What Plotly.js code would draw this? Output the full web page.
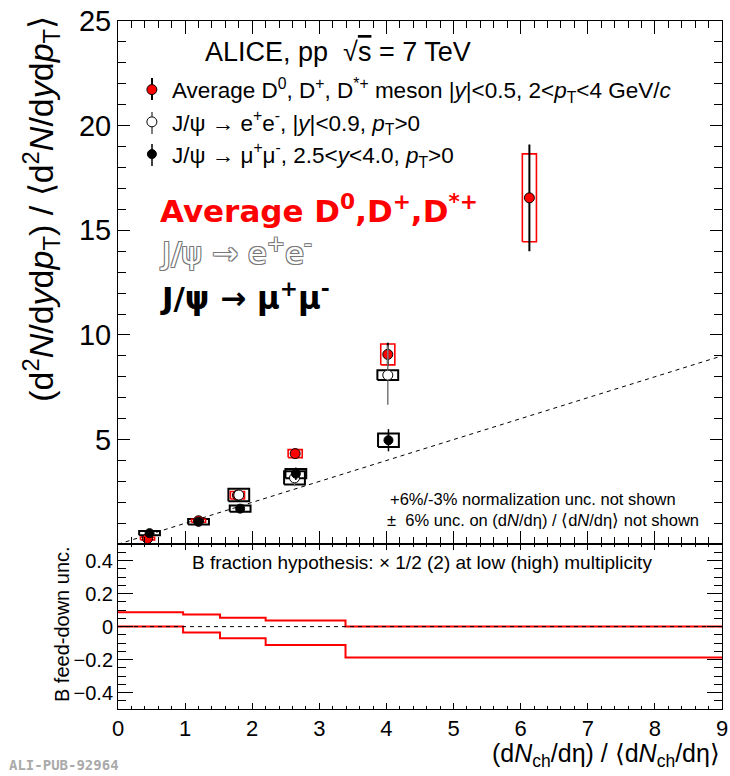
<!DOCTYPE html>
<html>
<head>
<meta charset="utf-8">
<script src="https://cdn.plot.ly/plotly-3.0.1.min.js"></script>
<style>body{margin:0;padding:0;background:#fff}#plot{width:730px;height:776px}</style>
</head>
<body>
<div id="plot"></div>
<script>
// D mesons (average D0, D+, D*+), 2<pT<4 GeV/c
const dX    = [0.44, 1.20, 1.78, 2.64, 4.02, 6.13];
const dY    = [0.27, 1.12, 2.34, 4.33, 9.07, 16.55];
const dStat = [0.05, 0.06, 0.10, 0.12, 0.56, 2.55];
const dSyst = [0.06, 0.07, 0.18, 0.19, 0.50, 2.10];

// J/psi -> e+e-
const eeX    = [1.80, 2.63, 4.02];
const eeY    = [2.35, 3.17, 8.08];
const eeStat = [0.25, 0.40, 1.41];
const eeSyst = [0.30, 0.32, 0.23];

// J/psi -> mu+mu-
const mmX    = [0.47, 1.20, 1.82, 2.65, 4.03];
const mmY    = [0.53, 1.07, 1.70, 3.37, 4.97];
const mmStat = [0.08, 0.08, 0.10, 0.30, 0.53];
const mmSyst = [0.10, 0.13, 0.15, 0.22, 0.32];

// reference line y = x
const diagX = [0, 9];
const diagY = [0, 9];

// B feed-down uncertainty (lower panel)
const binEdges = [0, 0.97, 1.52, 2.20, 3.39, 9];
const bUp  = [0.087, 0.073, 0.053, 0.037, 0.0];
const bLow = [0.0, -0.035, -0.071, -0.112, -0.187];

function boxes(xs, ys, hs, w) {
  const bx = [], by = [];
  xs.forEach((x, i) => {
    const lo = ys[i] - hs[i], hi = ys[i] + hs[i];
    bx.push(x - w, x + w, x + w, x - w, x - w, null);
    by.push(lo, lo, hi, hi, lo, null);
  });
  return {x: bx, y: by};
}
function stepY(v) { return v.concat([v[v.length - 1]]); }

const FONT = 'Liberation Sans, Arial, Helvetica, sans-serif';
const eeB = boxes(eeX, eeY, eeSyst, 0.155);
const mmB = boxes(mmX, mmY, mmSyst, 0.155);
const dB  = boxes(dX, dY, dSyst, 0.105);

const traces = [
  {x: diagX, y: diagY, xaxis: 'x2', yaxis: 'y', mode: 'lines', line: {color: '#000', width: 1, dash: '4px,4px'}, showlegend: false, hoverinfo: 'skip'},
  {x: eeB.x, y: eeB.y, xaxis: 'x2', yaxis: 'y', mode: 'lines', line: {color: '#000', width: 2}, showlegend: false, hoverinfo: 'skip'},
  {x: mmB.x, y: mmB.y, xaxis: 'x2', yaxis: 'y', mode: 'lines', line: {color: '#000', width: 2}, showlegend: false, hoverinfo: 'skip'},
  {x: dB.x, y: dB.y, xaxis: 'x2', yaxis: 'y', mode: 'lines', line: {color: '#ff0000', width: 1.6}, showlegend: false, hoverinfo: 'skip'},
  {x: dX, y: dY, xaxis: 'x2', yaxis: 'y', mode: 'markers', type: 'scatter',
   name: 'Average D<sup>0</sup>, D<sup>+</sup>, D<sup>*+</sup> meson |<i>y</i>|<0.5, 2<<i>p</i><sub>T</sub><4 GeV/<i>c</i>',
   marker: {symbol: 'circle', size: 10, color: '#ff0000', line: {color: '#000', width: 1}},
   error_y: {type: 'data', array: dStat, color: '#000', thickness: 2, width: 0}},
  {x: eeX, y: eeY, xaxis: 'x2', yaxis: 'y', mode: 'markers', type: 'scatter',
   name: 'J/ψ → e<sup>+</sup>e<sup>-</sup>, |<i>y</i>|<0.9, <i>p</i><sub>T</sub>>0',
   marker: {symbol: 'circle', size: 10, color: '#fff', line: {color: '#000', width: 1}},
   error_y: {type: 'data', array: eeStat, color: '#777', thickness: 1.5, width: 0}},
  {x: mmX, y: mmY, xaxis: 'x2', yaxis: 'y', mode: 'markers', type: 'scatter',
   name: 'J/ψ → μ<sup>+</sup>μ<sup>-</sup>, 2.5<<i>y</i><4.0, <i>p</i><sub>T</sub>>0',
   marker: {symbol: 'circle', size: 9, color: '#000', line: {color: '#000', width: 1}},
   error_y: {type: 'data', array: mmStat, color: '#000', thickness: 1.5, width: 0}},
  {x: binEdges, y: stepY(bUp), xaxis: 'x', yaxis: 'y2', mode: 'lines', line: {color: '#ff0000', width: 2, shape: 'hv'}, showlegend: false, hoverinfo: 'skip'},
  {x: binEdges, y: stepY(bLow), xaxis: 'x', yaxis: 'y2', mode: 'lines', line: {color: '#ff0000', width: 2, shape: 'hv'}, showlegend: false, hoverinfo: 'skip'},
  {x: [0, 9], y: [0, 0], xaxis: 'x', yaxis: 'y2', mode: 'lines', line: {color: '#000', width: 1, dash: '4px,4px'}, showlegend: false, hoverinfo: 'skip'}
];

const axBase = {showgrid: false, zeroline: false, showline: true, linecolor: '#000', linewidth: 1,
  ticks: 'inside', mirror: 'allticks', tickcolor: '#000', tickfont: {family: FONT, color: '#000'}};

// legend error-bar glyphs (pixel rows of the legend entries)
const H = 776, MB = 67, PH = 776 - 21 - 67;
function py(p) { return (H - MB - p) / PH; }
const legX = (152 - 118) / 604;
const legRows = [89, 123, 155];
const legLineW = [2, 1, 1.5];
const legShapes = legRows.map((r, i) => ({type: 'line', xref: 'paper', yref: 'paper', x0: legX, x1: legX,
  y0: py(r + 11), y1: py(r - 11), line: {color: '#000', width: legLineW[i]}, layer: 'below'}));

const splitFrac = 0.2395;
const layout = {
  width: 730, height: 776,
  margin: {l: 118, r: 8, t: 21, b: 67},
  paper_bgcolor: '#fff', plot_bgcolor: 'rgba(0,0,0,0)',
  font: {family: FONT, color: '#000'},
  showlegend: true,
  legend: {x: 0.023, y: 0.931, xanchor: 'left', yanchor: 'top', bgcolor: 'rgba(0,0,0,0)',
    font: {family: FONT, size: 22.5, color: '#000'}, tracegroupgap: 0, itemclick: false},
  shapes: legShapes,
  xaxis: Object.assign({}, axBase, {anchor: 'y2', domain: [0, 1], range: [0, 9], dtick: 1, ticklen: 6,
    tickfont: {family: FONT, size: 22, color: '#000'},
    minor: {dtick: 0.2, ticklen: 3, ticks: 'inside', tickcolor: '#000'}}),
  xaxis2: Object.assign({}, axBase, {anchor: 'y', domain: [0, 1], range: [0, 9], dtick: 1, ticklen: 13,
    matches: 'x', showticklabels: false,
    minor: {dtick: 0.2, ticklen: 7, ticks: 'inside', tickcolor: '#000'}}),
  yaxis: Object.assign({}, axBase, {anchor: 'x2', domain: [splitFrac, 1], range: [0, 25],
    tickvals: [5, 10, 15, 20, 25], ticklen: 12, tickfont: {family: FONT, size: 29, color: '#000'},
    minor: {dtick: 1, ticklen: 8, ticks: 'inside', tickcolor: '#000'}}),
  yaxis2: Object.assign({}, axBase, {anchor: 'x', domain: [0, splitFrac], range: [-0.5, 0.5],
    tickvals: [-0.4, -0.2, 0, 0.2, 0.4], ticktext: ['−0.4', '−0.2', '0', '0.2', '0.4'],
    ticklen: 15, tickfont: {family: FONT, size: 20, color: '#000'},
    minor: {dtick: 0.05, ticklen: 8, ticks: 'inside', tickcolor: '#000'}}),
  annotations: [
    {xref: 'paper', yref: 'paper', x: 0.14, y: 0.955, xanchor: 'left', yanchor: 'middle', showarrow: false,
     text: 'ALICE, pp  √<span style="text-decoration:overline">s</span> = 7 TeV', font: {family: FONT, size: 27}},
    {xref: 'paper', yref: 'paper', x: 0.066, y: 0.727, xanchor: 'left', yanchor: 'middle', showarrow: false,
     text: '<b>Average D<sup>0</sup>,D<sup>+</sup>,D<sup>*+</sup></b>', font: {family: 'DejaVu Sans', size: 31, color: '#ff0000'}},
    {xref: 'paper', yref: 'paper', x: 0.066, y: 0.665, xanchor: 'left', yanchor: 'middle', showarrow: false,
     text: 'J/ψ → e<sup>+</sup>e<sup>-</sup>', font: {family: 'DejaVu Sans', size: 31, color: '#ffffff',
       shadow: '-1px -1px 0 #777, 1px -1px 0 #777, -1px 1px 0 #777, 1px 1px 0 #777'}},
    {xref: 'paper', yref: 'paper', x: 0.066, y: 0.6, xanchor: 'left', yanchor: 'middle', showarrow: false,
     text: '<b>J/ψ → μ<sup>+</sup>μ<sup>-</sup></b>', font: {family: 'DejaVu Sans', size: 31, color: '#000'}},
    {xref: 'paper', yref: 'paper', x: 0.447, y: 0.305, xanchor: 'left', yanchor: 'middle', showarrow: false,
     text: '+6%/-3% normalization unc. not shown', font: {family: FONT, size: 16.5}},
    {xref: 'paper', yref: 'paper', x: 0.442, y: 0.274, xanchor: 'left', yanchor: 'middle', showarrow: false,
     text: '±  6% unc. on (d<i>N</i>/dη) / ⟨d<i>N</i>/dη⟩ not shown', font: {family: FONT, size: 16.5}},
    {xref: 'paper', yref: 'paper', x: 0.12, y: 0.213, xanchor: 'left', yanchor: 'middle', showarrow: false,
     text: 'B fraction hypothesis: × 1/2 (2) at low (high) multiplicity', font: {family: FONT, size: 19}},
    {xref: 'paper', yref: 'paper', x: 1, y: -0.067, xanchor: 'right', yanchor: 'middle', showarrow: false,
     text: '(d<i>N</i><sub>ch</sub>/dη) / ⟨d<i>N</i><sub>ch</sub>/dη⟩', font: {family: FONT, size: 25}},
    {xref: 'paper', yref: 'paper', x: -0.128, y: 1.01, xanchor: 'center', yanchor: 'top', showarrow: false, textangle: -90,
     text: '(d<sup>2</sup><i>N</i>/d<i>y</i>d<i>p</i><sub>T</sub>) / ⟨d<sup>2</sup><i>N</i>/d<i>y</i>d<i>p</i><sub>T</sub>⟩', font: {family: FONT, size: 34}},
    {xref: 'paper', yref: 'paper', x: -0.093, y: splitFrac, xanchor: 'center', yanchor: 'top', showarrow: false, textangle: -90,
     text: 'B feed-down unc.', font: {family: FONT, size: 20}},
    {xref: 'paper', yref: 'paper', x: -0.183, y: -0.082, xanchor: 'left', yanchor: 'middle', showarrow: false,
     text: '<b>ALI-PUB-92964</b>', font: {family: 'DejaVu Sans Mono', size: 14, color: '#aaaaaa'}}
  ]
};

Plotly.newPlot('plot', traces, layout, {staticPlot: true, displayModeBar: false});
</script>
</body>
</html>
